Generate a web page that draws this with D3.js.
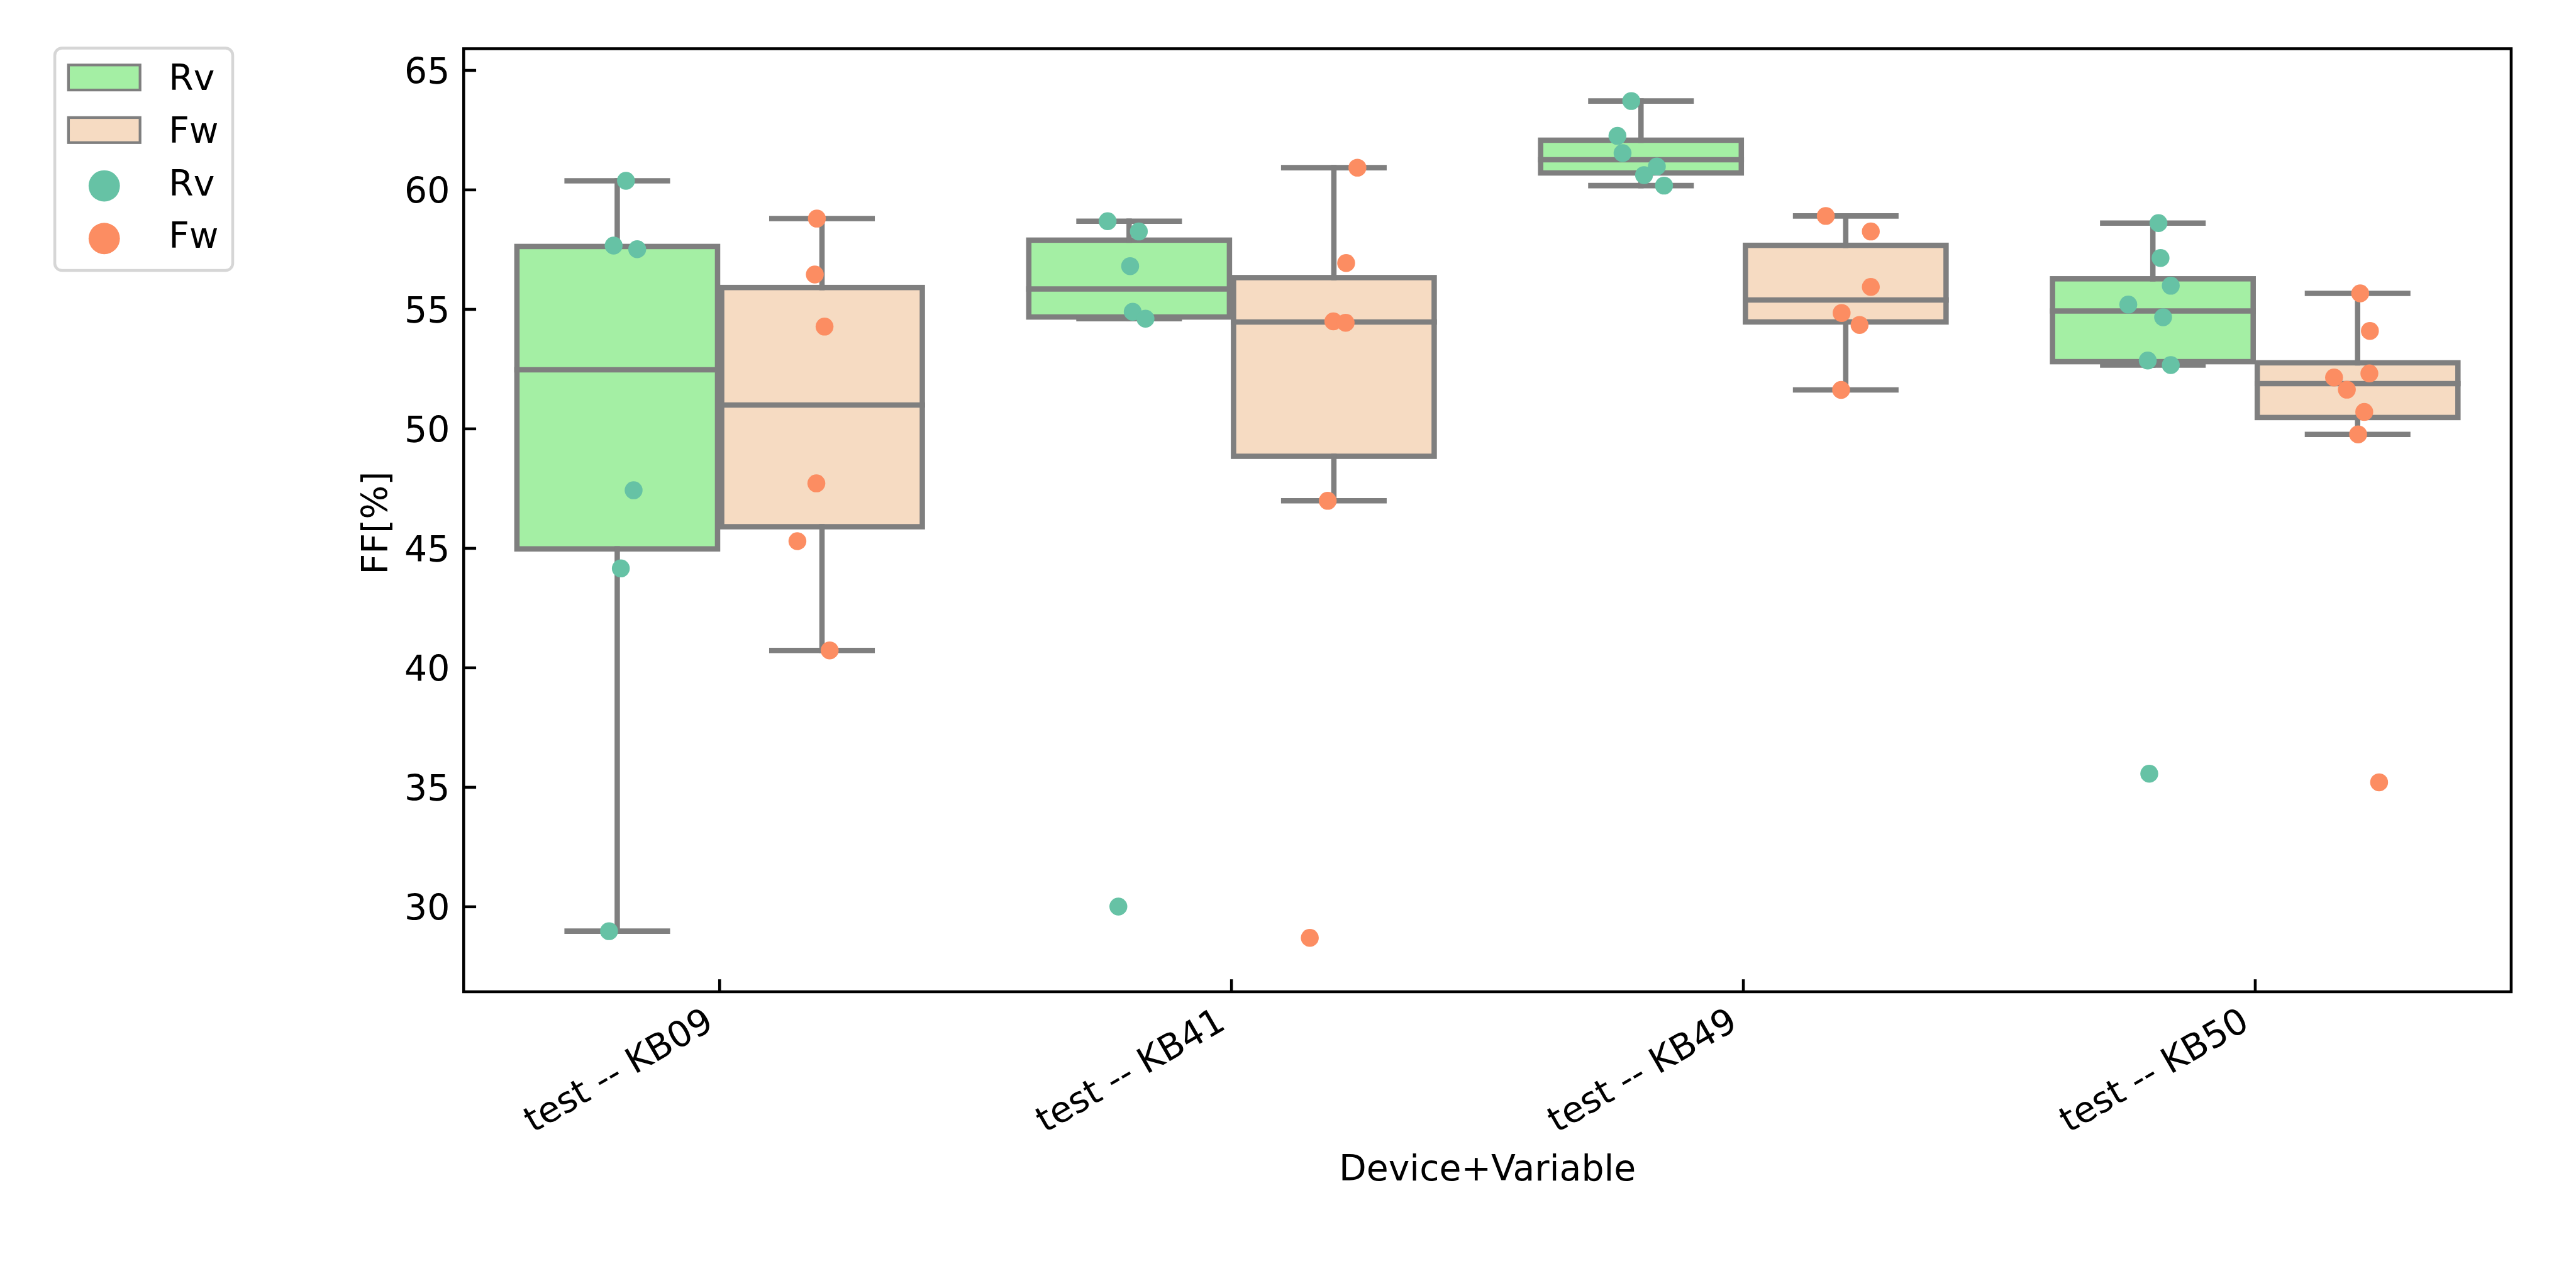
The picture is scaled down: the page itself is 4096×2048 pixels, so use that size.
<!DOCTYPE html>
<html><head><meta charset="utf-8">
<script src="https://cdn.jsdelivr.net/npm/d3@7"></script>
<style>html,body{margin:0;padding:0;background:#fff}</style>
</head><body>
<svg id="chart" width="4096" height="2048" xmlns="http://www.w3.org/2000/svg"></svg>
<script>
// ---------------- data ----------------
const categories = ["test -- KB09", "test -- KB41", "test -- KB49", "test -- KB50"];
const hueNames = ["Rv", "Fw"];
const rvValues = [
  [60.37, 57.66, 57.51, 47.42, 44.15, 28.97],
  [58.68, 58.25, 56.80, 54.89, 54.60, 30.00],
  [63.71, 62.25, 61.53, 60.97, 60.61, 60.17],
  [58.60, 57.14, 55.98, 55.19, 54.66, 52.85, 52.66, 35.56]
];
const rvJitter = [
  [0.017, -0.007, 0.039, 0.032, 0.007, -0.016],
  [-0.042, 0.019, 0.002, 0.007, 0.032, -0.021],
  [-0.019, -0.046, -0.036, 0.031, 0.006, 0.045],
  [0.011, 0.015, 0.035, -0.048, 0.020, -0.010, 0.035, -0.007]
];
const fwValues = [
  [58.79, 56.45, 54.27, 47.71, 45.29, 40.72],
  [60.92, 56.93, 54.49, 54.43, 46.98, 28.69],
  [58.90, 58.25, 55.93, 54.84, 54.34, 51.62],
  [55.66, 54.09, 52.31, 52.14, 51.63, 50.70, 49.76, 35.20]
];
const fwJitter = [
  [-0.010, -0.014, 0.005, -0.011, -0.048, 0.015],
  [0.046, 0.024, -0.001, 0.023, -0.012, -0.047],
  [-0.039, 0.049, 0.049, -0.008, 0.027, -0.009],
  [0.005, 0.024, 0.023, -0.046, -0.021, 0.013, 0.001, 0.042]
];
const yTicks = [30, 35, 40, 45, 50, 55, 60, 65];
const yDomain = [26.435, 65.898];
const xLabel = "Device+Variable";
const yLabel = "FF[%]";

// ---------------- style ----------------
const boxFill = ["#a4efa4", "#f6dbc2"];
const dotFill = ["#66c2a5", "#fc8d62"];
const gray = "#7f7f7f";
const FONT = "DejaVu Sans";
const FS = 83.3;            // 10pt at 600 dpi (reference pixels)
const S = 4096 / 6000;      // reference -> window scale

const svg = d3.select("#chart");
svg.append("rect").attr("width", 4096).attr("height", 2048).attr("fill", "#fff");
const root = svg.append("g").attr("transform", `scale(${S})`)
  .attr("font-family", FONT);

const plot = {left: 1080, right: 5849, top: 113.5, bottom: 2310};

const x = d3.scaleBand().domain(categories).range([plot.left, plot.right]).padding(0);
const y = d3.scaleLinear().domain(yDomain).range([plot.bottom, plot.top]);
const bw = x.bandwidth();
const hueOffset = d3.scaleOrdinal().domain(hueNames).range([-0.2, 0.2]);
const boxW = 0.392 * bw;

function stats(vals) {
  const s = vals.slice().sort(d3.ascending);
  const q1 = d3.quantile(s, 0.25), med = d3.quantile(s, 0.5), q3 = d3.quantile(s, 0.75);
  const iqr = q3 - q1;
  const lo = d3.min(s.filter(v => v >= q1 - 1.5 * iqr));
  const hi = d3.max(s.filter(v => v <= q3 + 1.5 * iqr));
  return {q1, med, q3, lo, hi};
}

const groups = [];
categories.forEach((c, i) => {
  [[rvValues, rvJitter], [fwValues, fwJitter]].forEach(([vals, jit], h) => {
    groups.push({cat: c, hue: hueNames[h], h, vals: vals[i], jit: jit[i], st: stats(vals[i])});
  });
});
const cxOf = g => x(g.cat) + bw / 2 + hueOffset(g.hue) * bw;

// ---------------- boxes ----------------
const LW = 12.5;
const boxes = root.append("g");
groups.forEach(g => {
  const cx = cxOf(g), st = g.st;
  const bg = boxes.append("g");
  bg.append("rect")
    .attr("x", cx - boxW / 2).attr("width", boxW)
    .attr("y", y(st.q3)).attr("height", y(st.q1) - y(st.q3))
    .attr("fill", boxFill[g.h]).attr("stroke", gray).attr("stroke-width", LW);
  const line = (x1, y1, x2, y2) => bg.append("line")
    .attr("x1", x1).attr("y1", y1).attr("x2", x2).attr("y2", y2)
    .attr("stroke", gray).attr("stroke-width", LW).attr("stroke-linecap", "square");
  line(cx, y(st.q1), cx, y(st.lo));
  line(cx, y(st.q3), cx, y(st.hi));
  line(cx - boxW / 4, y(st.lo), cx + boxW / 4, y(st.lo));
  line(cx - boxW / 4, y(st.hi), cx + boxW / 4, y(st.hi));
  line(cx - boxW / 2, y(st.med), cx + boxW / 2, y(st.med));
});

// ---------------- strip points ----------------
const pts = root.append("g");
groups.forEach(g => {
  const cx = cxOf(g);
  pts.selectAll(null).data(g.vals.map((v, k) => ({v, j: g.jit[k]})))
    .enter().append("circle")
    .attr("cx", d => cx + d.j * bw)
    .attr("cy", d => y(d.v))
    .attr("r", 20.85)
    .attr("fill", dotFill[g.h]);
});

// ---------------- axes ----------------
const TICK = 29, TW = 6.67;
const yAxis = d3.axisLeft(y).tickValues(yTicks).tickSizeInner(-TICK).tickSizeOuter(0).tickPadding(32);
const gy = root.append("g").attr("transform", `translate(${plot.left},0)`).call(yAxis);
gy.select(".domain").remove();
gy.selectAll(".tick line").attr("stroke", "#000").attr("stroke-width", TW);
gy.selectAll(".tick text").attr("font-family", FONT).attr("font-size", FS)
  .attr("fill", "#000").attr("dy", "0.364em");

const xAxis = d3.axisBottom(x).tickSizeInner(-TICK).tickSizeOuter(0);
const gx = root.append("g").attr("transform", `translate(0,${plot.bottom})`).call(xAxis);
gx.select(".domain").remove();
gx.selectAll(".tick line").attr("stroke", "#000").attr("stroke-width", TW);
gx.selectAll(".tick text").attr("font-family", FONT).attr("font-size", FS).attr("fill", "#000")
  .attr("x", -9.6).attr("y", 84).attr("dy", 0).attr("text-anchor", "end")
  .attr("transform", "rotate(-30,-9.6,84)");
gy.attr("font-family", FONT); gx.attr("font-family", FONT);

// frame
root.append("rect")
  .attr("x", plot.left).attr("y", plot.top)
  .attr("width", plot.right - plot.left).attr("height", plot.bottom - plot.top)
  .attr("fill", "none").attr("stroke", "#000").attr("stroke-width", TW);

// labels
root.append("text").text(xLabel)
  .attr("x", (plot.left + plot.right) / 2).attr("y", 2750)
  .attr("text-anchor", "middle").attr("font-size", FS).attr("fill", "#000");
root.append("text").text(yLabel)
  .attr("transform", `translate(902,1218) rotate(-90)`)
  .attr("text-anchor", "middle").attr("font-size", FS).attr("fill", "#000");

// ---------------- legend ----------------
const lg = root.append("g");
lg.append("rect").attr("x", 127.6).attr("y", 112.2).attr("width", 414.4).attr("height", 517.8)
  .attr("rx", 16.7).attr("ry", 16.7)
  .attr("fill", "#fff").attr("stroke", "#d6d6d6").attr("stroke-width", 6.67);
const legendRows = [
  {kind: "patch", h: 0, cy: 180.5, base: 209},
  {kind: "patch", h: 1, cy: 303, base: 332},
  {kind: "dot", h: 0, cy: 433, base: 455},
  {kind: "dot", h: 1, cy: 555.5, base: 577}
];
legendRows.forEach(r => {
  if (r.kind === "patch") {
    lg.append("rect").attr("x", 159.5).attr("y", r.cy - 29.15).attr("width", 166.7).attr("height", 58.3)
      .attr("fill", boxFill[r.h]).attr("stroke", gray).attr("stroke-width", 6.25);
  } else {
    lg.append("circle").attr("cx", 242.8).attr("cy", r.cy).attr("r", 36.5).attr("fill", dotFill[r.h]);
  }
  lg.append("text").text(hueNames[r.h]).attr("x", 393).attr("y", r.base)
    .attr("font-size", FS).attr("fill", "#000");
});
</script>
</body></html>
